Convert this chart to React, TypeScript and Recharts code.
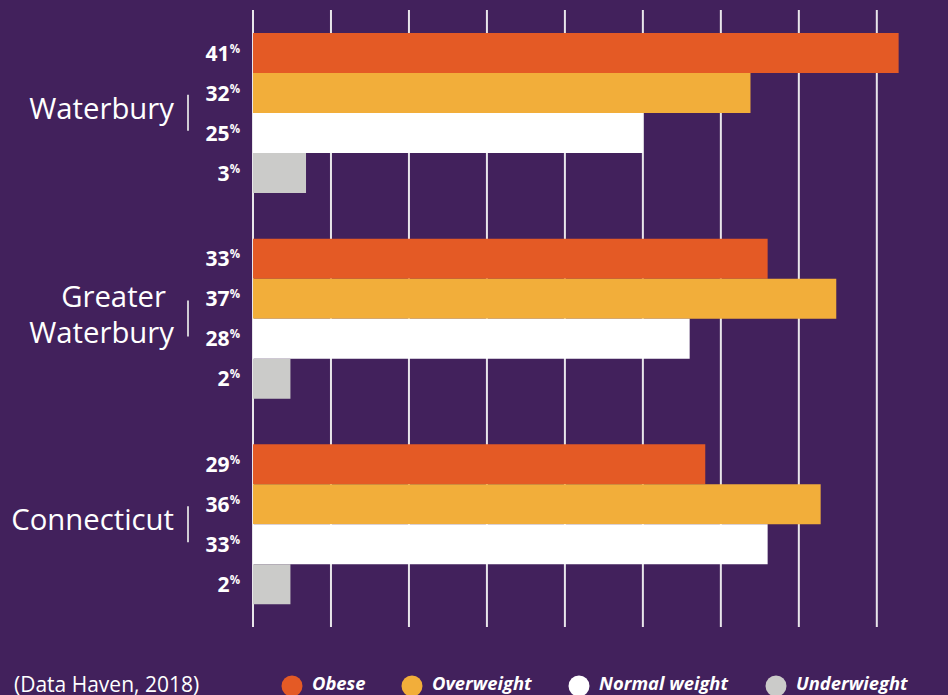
import { BarChart, Bar, XAxis, YAxis, CartesianGrid, Legend, LabelList } from 'recharts'

document.body.style.margin = '0'

const categories = ['Waterbury', 'Greater Waterbury', 'Connecticut']
const obese = [41.4, 33, 29]
const overweight = [31.9, 37.4, 36.4]
const normalWeight = [25, 28, 33]
const underweight = [3.4, 2.4, 2.4]
const xTicks = [0, 5, 10, 15, 20, 25, 30, 35, 40]
const xMax = 42
const source = '(Data Haven, 2018)'

const series = [
  { key: 'obese', label: 'Obese', color: '#e45a25' },
  { key: 'overweight', label: 'Overweight', color: '#f2ae3a' },
  { key: 'normal', label: 'Normal weight', color: '#ffffff' },
  { key: 'underweight', label: 'Underwieght', color: '#cbcbc9' },
]

const data = categories.map((name, i) => ({
  name,
  obese: obese[i],
  overweight: overweight[i],
  normal: normalWeight[i],
  underweight: underweight[i],
}))

const FONT = '"Open Sans", sans-serif'
const BG = '#42215c'

function CategoryTick({ y, payload }: any) {
  const lines = String(payload.value).split(' ')
  const first = 6 - (lines.length - 1) * 18
  return (
    <g>
      {lines.map((line, i) => (
        <text
          key={i}
          x={i < lines.length - 1 ? 166 : 174}
          y={y + first + i * 36}
          textAnchor="end"
          fill="#fff"
          fontSize={29.3}
          fontFamily={FONT}
        >
          {line}
        </text>
      ))}
      <line x1={188} x2={188} y1={y - 18} y2={y + 18} stroke="#cfcbd3" strokeWidth={2} />
    </g>
  )
}

function ValueLabel({ x, y, height, value }: any) {
  return (
    <text x={x - 13} y={y + height / 2 + 7.5} textAnchor="end" fill="#fff" fontFamily={FONT} fontWeight={700}>
      <tspan fontSize={21}>{Math.round(value)}</tspan>
      <tspan fontSize={11.5} dy={-8}>%</tspan>
    </text>
  )
}

// grid only at the 5% steps, not at the plot's right edge
function gridX({ offset }: any) {
  return xTicks.map((t) => offset.left + (t / xMax) * offset.width)
}

// legend circle centres
const legendX = [292, 412, 579, 776]

function LegendBox() {
  return (
    <svg width={948} height={68} style={{ display: 'block' }}>
      <text x={14} y={65} fill="#fff" fontSize={21} fontFamily={FONT}>{source}</text>
      {series.map((s, i) => (
        <g key={s.key}>
          <circle cx={legendX[i]} cy={59} r={10.5} fill={s.color} />
          <text
            x={legendX[i] + 20}
            y={63}
            fill="#fff"
            fontSize={18.4}
            fontWeight={700}
            fontStyle="italic"
            fontFamily={FONT}
          >
            {s.label}
          </text>
        </g>
      ))}
    </svg>
  )
}

export default function App() {
  return (
    <div style={{ width: 948, height: 695, background: BG }}>
      <BarChart
        width={948}
        height={695}
        data={data}
        layout="vertical"
        margin={{ top: 10, right: 40, left: 0, bottom: 0 }}
        barGap={0}
      >
        <CartesianGrid
          horizontal={false}
          stroke="#e8e6ea"
          strokeWidth={2}
          verticalCoordinatesGenerator={gridX}
        />
        <XAxis type="number" domain={[0, xMax]} ticks={xTicks} hide />
        <YAxis
          type="category"
          dataKey="name"
          width={253}
          axisLine={false}
          tickLine={false}
          tick={CategoryTick}
        />
        <Legend verticalAlign="bottom" content={() => <LegendBox />} wrapperStyle={{ left: 0, width: 948 }} />
        {series.map((s) => (
          <Bar key={s.key} dataKey={s.key} fill={s.color} barSize={40} isAnimationActive={false}>
            <LabelList dataKey={s.key} content={ValueLabel} />
          </Bar>
        ))}
      </BarChart>
    </div>
  )
}
